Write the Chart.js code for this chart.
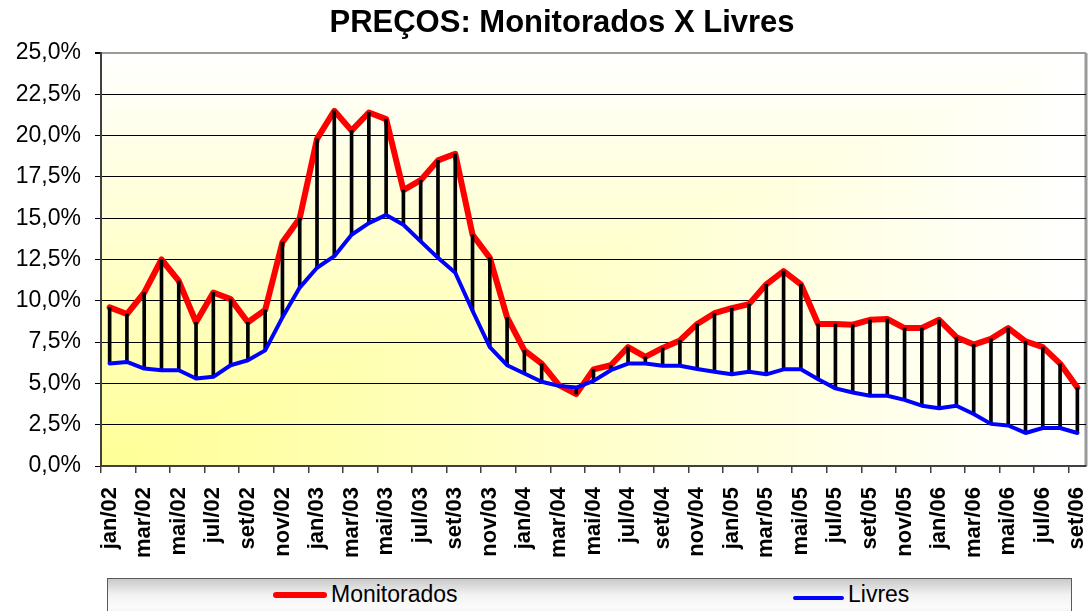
<!DOCTYPE html>
<html>
<head>
<meta charset="utf-8">
<script src="https://cdn.jsdelivr.net/npm/chart.js@4/dist/chart.umd.min.js"></script>
<style>
  html, body { margin:0; padding:0; background:#fff; overflow:hidden; }
  #wrap { position:relative; width:1089px; height:611px; overflow:hidden; font-family:"Liberation Sans", Arial, sans-serif; }
  #chart { position:absolute; left:0; top:0; }
  #title { position:absolute; left:562px; top:6px; transform:translateX(-50%); white-space:nowrap;
           font-weight:bold; font-size:31px; line-height:31px; color:#000; }
  #legend { position:absolute; left:107px; top:578px; width:963px; height:45px;
            border:1.5px solid #5a5a5a;
            background:linear-gradient(to bottom, #c9c9c9 0%, #f2f2f2 35%, #fbfbfb 60%, #ececec 100%); }
  .sw { position:absolute; border-radius:3px; }
  .lt { position:absolute; font-size:23px; line-height:23px; color:#000; white-space:nowrap; }
</style>
</head>
<body>
<div id="wrap">
  <canvas id="chart" width="1089" height="611"></canvas>
  <div id="title">PREÇOS: Monitorados X Livres</div>
  <div id="legend"></div>
  <div class="sw" style="left:273px;top:592px;width:54px;height:6px;background:#ff0000;"></div>
  <div class="lt" style="left:331px;top:583px;">Monitorados</div>
  <div class="sw" style="left:793px;top:596px;width:51px;height:4px;background:#0000ff;border-radius:2px;"></div>
  <div class="lt" style="left:848px;top:583px;">Livres</div>
</div>
<script>
const categories = [
  'jan/02','fev/02','mar/02','abr/02','mai/02','jun/02','jul/02','ago/02','set/02','out/02','nov/02','dez/02',
  'jan/03','fev/03','mar/03','abr/03','mai/03','jun/03','jul/03','ago/03','set/03','out/03','nov/03','dez/03',
  'jan/04','fev/04','mar/04','abr/04','mai/04','jun/04','jul/04','ago/04','set/04','out/04','nov/04','dez/04',
  'jan/05','fev/05','mar/05','abr/05','mai/05','jun/05','jul/05','ago/05','set/05','out/05','nov/05','dez/05',
  'jan/06','fev/06','mar/06','abr/06','mai/06','jun/06','jul/06','ago/06','set/06'
];
const monitorados = [
  9.6, 9.2, 10.5, 12.5, 11.2, 8.7, 10.5, 10.1, 8.7, 9.45, 13.55, 15.0,
  19.8, 21.5, 20.3, 21.4, 21.0, 16.7, 17.3, 18.5, 18.9, 14.0, 12.6, 9.0,
  7.0, 6.2, 4.9, 4.35, 5.85, 6.1, 7.2, 6.6, 7.15, 7.6, 8.6, 9.25,
  9.55, 9.8, 11.0, 11.8, 11.0, 8.6, 8.6, 8.55, 8.85, 8.9, 8.35, 8.35,
  8.85, 7.8, 7.35, 7.7, 8.35, 7.55, 7.2, 6.2, 4.75
];
const livres = [
  6.2, 6.3, 5.9, 5.8, 5.8, 5.3, 5.4, 6.1, 6.4, 7.0, 9.0, 10.8,
  12.0, 12.7, 14.0, 14.7, 15.2, 14.6, 13.6, 12.6, 11.7, 9.4, 7.2, 6.1,
  5.6, 5.1, 4.85, 4.75, 5.15, 5.8, 6.2, 6.2, 6.07, 6.07, 5.87, 5.7,
  5.55, 5.7, 5.55, 5.85, 5.85, 5.25, 4.7, 4.45, 4.25, 4.25, 4.0, 3.65,
  3.5, 3.65, 3.15, 2.55, 2.45, 2.0, 2.3, 2.3, 2.0
];
const yTicks = { min: 0, max: 25, step: 2.5 };

const highLow = livres.map((v, i) => [v, monitorados[i]]);

const plotBg = {
  id: 'plotBg',
  beforeDraw(chart) {
    const { ctx, chartArea: { left, top, right, bottom } } = chart;
    const w = right - left, h = bottom - top;
    const N = 160;
    ctx.save();
    for (let k = N; k >= 1; k--) {
      const t = k / N;
      const b = Math.round(150 + (255 - 150) * t);
      ctx.fillStyle = 'rgb(255,255,' + b + ')';
      ctx.fillRect(left, bottom - h * t, w * t, h * t);
    }
    ctx.strokeStyle = '#9a9a9a';
    ctx.lineWidth = 3;
    ctx.beginPath();
    ctx.moveTo(right, top);
    ctx.lineTo(right, bottom);
    ctx.stroke();
    ctx.restore();
  }
};

Chart.defaults.font.family = '"Liberation Sans", Arial, sans-serif';
Chart.defaults.color = '#000';

new Chart(document.getElementById('chart'), {
  type: 'line',
  data: {
    labels: categories,
    datasets: [
      {
        label: 'Monitorados', data: monitorados, borderColor: '#ff0000', backgroundColor: '#ff0000',
        borderWidth: 6, pointRadius: 0, tension: 0, borderJoinStyle: 'round', borderCapStyle: 'round', order: 3
      },
      {
        type: 'bar', label: 'hl', data: highLow, backgroundColor: '#000', barThickness: 3, order: 2
      },
      {
        label: 'Livres', data: livres, borderColor: '#0000ff', backgroundColor: '#0000ff',
        borderWidth: 4, pointRadius: 0, tension: 0, borderJoinStyle: 'round', borderCapStyle: 'round', order: 1
      }
    ]
  },
  options: {
    responsive: false,
    animation: false,
    layout: { padding: { top: 53, right: 3, left: 0, bottom: 0 } },
    plugins: { legend: { display: false }, title: { display: false }, tooltip: { enabled: false } },
    scales: {
      x: {
        type: 'category',
        offset: true,
        afterFit(scale) { scale.height = 145; scale.paddingRight = 0; scale.paddingLeft = 0; },
        border: { display: true, color: '#404040', width: 2 },
        grid: {
          offset: true, drawOnChartArea: false, tickLength: 7, lineWidth: 1.5,
          color: (c) => (c.index % 2 === 0 ? '#404040' : 'rgba(0,0,0,0)')
        },
        ticks: {
          autoSkip: false, maxRotation: 90, minRotation: 90, padding: 14,
          font: { size: 22, weight: 'bold' }, color: '#000',
          callback(v, i) { return i % 2 === 0 ? this.getLabelForValue(v) : ''; }
        }
      },
      y: {
        min: yTicks.min, max: yTicks.max,
        afterFit(scale) { scale.width = 101; },
        border: { display: true, color: '#404040', width: 2 },
        grid: {
          tickLength: 6,
          color: (c) => (c.tick && c.tick.value === yTicks.max ? '#9a9a9a' : '#000'),
          lineWidth: (c) => (c.tick && c.tick.value === yTicks.max ? 2 : 1),
          tickColor: '#000'
        },
        ticks: {
          stepSize: yTicks.step, padding: 14, font: { size: 23 }, color: '#000',
          callback(v) { return v.toFixed(1).replace('.', ',') + '%'; }
        }
      }
    }
  },
  plugins: [plotBg]
});
</script>
</body>
</html>
